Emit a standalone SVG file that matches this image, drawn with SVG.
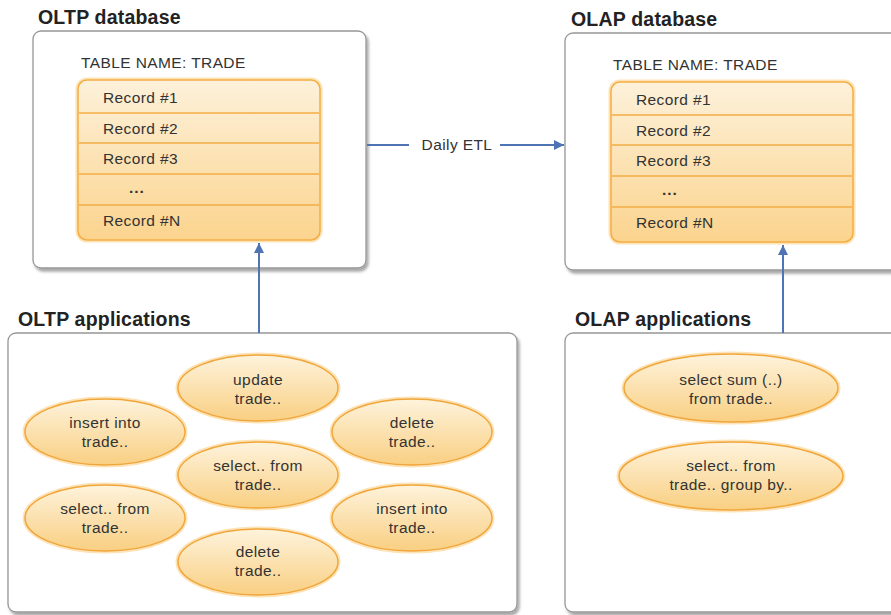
<svg xmlns="http://www.w3.org/2000/svg" width="891" height="615" viewBox="0 0 891 615">
  <defs>
    <linearGradient id="tableFill" x1="0" y1="0" x2="0" y2="1">
      <stop offset="0" stop-color="#fdf1da"/>
      <stop offset="1" stop-color="#fbd48e"/>
    </linearGradient>
    <linearGradient id="ovalFill" x1="0" y1="0" x2="0" y2="1">
      <stop offset="0" stop-color="#fef3dc"/>
      <stop offset="1" stop-color="#f9cf82"/>
    </linearGradient>
    <filter id="shadow" x="-5%" y="-5%" width="115%" height="115%">
      <feGaussianBlur in="SourceAlpha" stdDeviation="1.5"/>
      <feOffset dx="2" dy="3" result="b"/>
      <feComponentTransfer><feFuncA type="linear" slope="0.35"/></feComponentTransfer>
      <feMerge><feMergeNode/><feMergeNode in="SourceGraphic"/></feMerge>
    </filter>
    <marker id="arrow" viewBox="0 0 10 10" refX="10" refY="5" markerWidth="10" markerHeight="10" markerUnits="userSpaceOnUse" orient="auto">
      <path d="M0,0 L10,5 L0,10 Z" fill="#4e74b3"/>
    </marker>
  </defs>
  <style>
    .title { font-family: "Liberation Sans", Arial, sans-serif; font-size: 19.5px; font-weight: bold; fill: #222; letter-spacing: 0.2px; }
    .label { font-family: "Liberation Sans", Arial, sans-serif; font-size: 15.5px; fill: #333; letter-spacing: 0.4px; }
    .box { fill: #fff; stroke: #979797; stroke-width: 1.3; }
    .table { fill: url(#tableFill); stroke: #f3ad45; stroke-width: 1.5; }
    .halo { fill: none; stroke: #fde2b3; stroke-width: 5; }
    .row { stroke: #f3ad45; stroke-width: 1.5; }
    .oval { fill: url(#ovalFill); stroke: #f0a63a; stroke-width: 1.5; }
    .ovalHalo { fill: none; stroke: #fde3b8; stroke-width: 5; }
    .conn { stroke: #4e74b3; stroke-width: 2; fill: none; }
    .c { text-anchor: middle; }
    .dots { font-weight: bold; letter-spacing: 1px; }
  </style>

  <!-- OLTP database -->
  <g id="oltp-db">
    <text class="title" x="38" y="24">OLTP database</text>
    <rect class="box" x="33" y="31" width="333" height="237" rx="8" filter="url(#shadow)"/>
    <text class="label" x="81" y="68">TABLE NAME: TRADE</text>
    <rect class="halo" x="78" y="80" width="242" height="160" rx="9"/>
    <rect class="table" x="78" y="80" width="242" height="160" rx="9"/>
    <line class="row" x1="79" y1="113" x2="319" y2="113"/>
    <line class="row" x1="79" y1="143" x2="319" y2="143"/>
    <line class="row" x1="79" y1="174" x2="319" y2="174"/>
    <line class="row" x1="79" y1="205" x2="319" y2="205"/>
    <text class="label" x="103" y="103">Record #1</text>
    <text class="label" x="103" y="134">Record #2</text>
    <text class="label" x="103" y="164">Record #3</text>
    <text class="label dots" x="129" y="193">...</text>
    <text class="label" x="103" y="226">Record #N</text>
  </g>

  <!-- OLAP database -->
  <g id="olap-db">
    <text class="title" x="571" y="26">OLAP database</text>
    <rect class="box" x="565" y="33" width="340" height="237" rx="8" filter="url(#shadow)"/>
    <text class="label" x="613" y="70">TABLE NAME: TRADE</text>
    <rect class="halo" x="611" y="82" width="242" height="160" rx="9"/>
    <rect class="table" x="611" y="82" width="242" height="160" rx="9"/>
    <line class="row" x1="612" y1="115" x2="852" y2="115"/>
    <line class="row" x1="612" y1="145" x2="852" y2="145"/>
    <line class="row" x1="612" y1="176" x2="852" y2="176"/>
    <line class="row" x1="612" y1="207" x2="852" y2="207"/>
    <text class="label" x="636" y="105">Record #1</text>
    <text class="label" x="636" y="136">Record #2</text>
    <text class="label" x="636" y="166">Record #3</text>
    <text class="label dots" x="662" y="195">...</text>
    <text class="label" x="636" y="228">Record #N</text>
  </g>

  <!-- OLTP applications -->
  <g id="oltp-apps">
    <text class="title" x="18" y="326">OLTP applications</text>
    <rect class="box" x="8" y="333" width="509" height="279" rx="8" filter="url(#shadow)"/>
  </g>
  <g id="q-update">
    <ellipse class="ovalHalo" cx="258" cy="388" rx="80" ry="33"/>
    <ellipse class="oval" cx="258" cy="388" rx="80" ry="33"/>
    <text class="label c" x="258" y="385">update</text>
    <text class="label c" x="258" y="404">trade..</text>
  </g>
  <g id="q-insert-1">
    <ellipse class="ovalHalo" cx="105" cy="432" rx="80" ry="33"/>
    <ellipse class="oval" cx="105" cy="432" rx="80" ry="33"/>
    <text class="label c" x="105" y="428">insert into</text>
    <text class="label c" x="105" y="447">trade..</text>
  </g>
  <g id="q-delete-1">
    <ellipse class="ovalHalo" cx="412" cy="432" rx="80" ry="33"/>
    <ellipse class="oval" cx="412" cy="432" rx="80" ry="33"/>
    <text class="label c" x="412" y="428">delete</text>
    <text class="label c" x="412" y="447">trade..</text>
  </g>
  <g id="q-select-1">
    <ellipse class="ovalHalo" cx="258" cy="475" rx="80" ry="33"/>
    <ellipse class="oval" cx="258" cy="475" rx="80" ry="33"/>
    <text class="label c" x="258" y="471">select.. from</text>
    <text class="label c" x="258" y="490">trade..</text>
  </g>
  <g id="q-select-2">
    <ellipse class="ovalHalo" cx="105" cy="518" rx="80" ry="33"/>
    <ellipse class="oval" cx="105" cy="518" rx="80" ry="33"/>
    <text class="label c" x="105" y="514">select.. from</text>
    <text class="label c" x="105" y="533">trade..</text>
  </g>
  <g id="q-insert-2">
    <ellipse class="ovalHalo" cx="412" cy="518" rx="80" ry="33"/>
    <ellipse class="oval" cx="412" cy="518" rx="80" ry="33"/>
    <text class="label c" x="412" y="514">insert into</text>
    <text class="label c" x="412" y="533">trade..</text>
  </g>
  <g id="q-delete-2">
    <ellipse class="ovalHalo" cx="258" cy="562" rx="80" ry="33"/>
    <ellipse class="oval" cx="258" cy="562" rx="80" ry="33"/>
    <text class="label c" x="258" y="557">delete</text>
    <text class="label c" x="258" y="576">trade..</text>
  </g>

  <!-- OLAP applications -->
  <g id="olap-apps">
    <text class="title" x="575" y="326">OLAP applications</text>
    <rect class="box" x="565" y="333" width="340" height="279" rx="8" filter="url(#shadow)"/>
  </g>
  <g id="q-sum">
    <ellipse class="ovalHalo" cx="731" cy="388" rx="107" ry="34"/>
    <ellipse class="oval" cx="731" cy="388" rx="107" ry="34"/>
    <text class="label c" x="731" y="385">select sum (..)</text>
    <text class="label c" x="731" y="404">from trade..</text>
  </g>
  <g id="q-group">
    <ellipse class="ovalHalo" cx="731" cy="476" rx="112" ry="34"/>
    <ellipse class="oval" cx="731" cy="476" rx="112" ry="34"/>
    <text class="label c" x="731" y="471">select.. from</text>
    <text class="label c" x="731" y="490">trade.. group by..</text>
  </g>

  <!-- connectors -->
  <g id="connectors">
    <line class="conn" x1="367" y1="145" x2="409" y2="145"/>
    <text class="label c" x="457" y="150">Daily ETL</text>
    <line class="conn" x1="500" y1="145" x2="564" y2="145" marker-end="url(#arrow)"/>
    <line class="conn" x1="259" y1="333" x2="259" y2="243" marker-end="url(#arrow)"/>
    <line class="conn" x1="783" y1="333" x2="783" y2="245" marker-end="url(#arrow)"/>
  </g>
</svg>
